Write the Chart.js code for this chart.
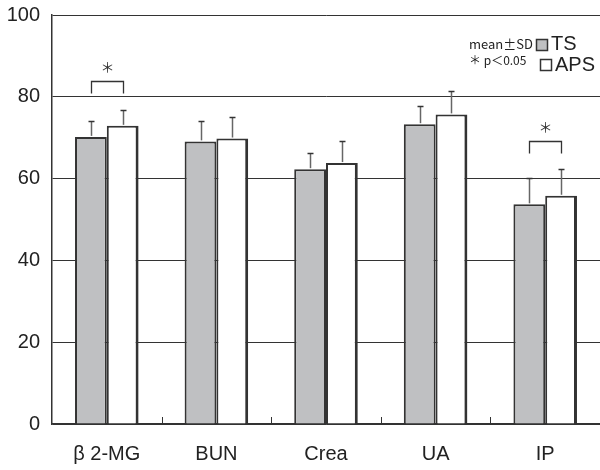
<!DOCTYPE html>
<html>
<head>
<meta charset="utf-8">
<script src="https://cdn.jsdelivr.net/npm/chart.js@4/dist/chart.umd.min.js"></script>
<style>
  html, body { margin: 0; padding: 0; background: #fff; }
  #wrap { width: 600px; height: 470px; }
</style>
</head>
<body>
<div id="wrap"><canvas id="c" width="600" height="470"></canvas></div>
<script>
// Measured items and the two groups compared
const categories = ['β 2-MG', 'BUN', 'Crea', 'UA', 'IP'];
const tsMean  = [70.2, 69.1, 62.3, 73.3, 53.7];
const tsSD    = [4.0, 5.1, 3.9, 4.5, 6.4];
const apsMean = [72.9, 69.8, 63.8, 75.7, 55.8];
const apsSD   = [3.9, 5.3, 5.5, 5.8, 6.5];
const yTicks  = [0, 20, 40, 60, 80, 100];
// Level of the significance bracket (null = not significant)
const sigBracket = [83.8, null, null, null, 69.3];

const SANS = '"Liberation Sans", Arial, sans-serif';
const JP = '"Noto Sans CJK JP", "Noto Sans", sans-serif';

const extras = {
  id: 'extras',
  afterDatasetsDraw(chart) {
    const ctx = chart.ctx;
    const x = chart.scales.x, y = chart.scales.y;
    const area = chart.chartArea;
    ctx.save();

    // small upward ticks between categories
    ctx.strokeStyle = '#333';
    ctx.lineWidth = 1;
    for (let i = 0; i < categories.length - 1; i++) {
      const px = Math.round((x.getPixelForValue(i) + x.getPixelForValue(i + 1)) / 2) + 0.5;
      ctx.beginPath();
      ctx.moveTo(px, area.bottom);
      ctx.lineTo(px, area.bottom - 7);
      ctx.stroke();
    }

    // SD error bars
    const sets = [[tsMean, tsSD], [apsMean, apsSD]];
    sets.forEach(([m, sd], di) => {
      const meta = chart.getDatasetMeta(di);
      meta.data.forEach((bar, i) => {
        const cx = Math.round(bar.x) + 0.5;
        const y0 = y.getPixelForValue(m[i]);
        const y1 = Math.round(y.getPixelForValue(m[i] + sd[i])) + 0.5;
        ctx.strokeStyle = '#666';
        ctx.lineWidth = 1.5;
        ctx.beginPath();
        ctx.moveTo(cx, y0 - 1);
        ctx.lineTo(cx, y1);
        ctx.stroke();
        ctx.strokeStyle = '#333';
        ctx.beginPath();
        ctx.moveTo(cx - 3, y1);
        ctx.lineTo(cx + 3, y1);
        ctx.stroke();
      });
    });

    // significance brackets and asterisks
    const m0 = chart.getDatasetMeta(0), m1 = chart.getDatasetMeta(1);
    sigBracket.forEach((lvl, i) => {
      if (lvl === null) return;
      const xa = Math.round(m0.data[i].x) + 0.5;
      const xb = Math.round(m1.data[i].x) + 0.5;
      const yt = Math.round(y.getPixelForValue(lvl)) + 0.5;
      ctx.strokeStyle = '#333';
      ctx.lineWidth = 1.3;
      ctx.beginPath();
      ctx.moveTo(xa, yt + 12);
      ctx.lineTo(xa, yt);
      ctx.lineTo(xb, yt);
      ctx.lineTo(xb, yt + 12);
      ctx.stroke();
      ctx.fillStyle = '#333';
      ctx.font = '14px ' + JP;
      ctx.textAlign = 'center';
      ctx.textBaseline = 'middle';
      ctx.fillText('＊', (xa + xb) / 2, yt - 15);
    });

    // legend
    ctx.textBaseline = 'middle';
    ctx.textAlign = 'left';
    ctx.fillStyle = '#222';
    ctx.font = '13px ' + JP;
    ctx.fillText('mean±SD', 469, 44);
    ctx.font = '12px ' + JP;
    ctx.fillText('＊ p＜0.05', 469, 60);
    ctx.lineWidth = 1.5;
    ctx.strokeStyle = '#333';
    ctx.fillStyle = '#bfc0c2';
    ctx.fillRect(536.5, 39.5, 11, 11);
    ctx.strokeRect(536.5, 39.5, 11, 11);
    ctx.fillStyle = '#fff';
    ctx.fillRect(540.5, 59.5, 11, 11);
    ctx.strokeRect(540.5, 59.5, 11, 11);
    ctx.fillStyle = '#222';
    ctx.font = '20px ' + SANS;
    ctx.fillText('TS', 551, 44);
    ctx.fillText('APS', 555, 65);

    ctx.restore();
  }
};

new Chart(document.getElementById('c'), {
  type: 'bar',
  data: {
    labels: categories,
    datasets: [
      {
        label: 'TS',
        data: tsMean,
        backgroundColor: '#bfc0c2',
        borderColor: '#333',
        borderWidth: { top: 2, left: 2, right: 2, bottom: 0 },
        borderSkipped: 'bottom',
        categoryPercentage: 0.58,
        barPercentage: 1.0
      },
      {
        label: 'APS',
        data: apsMean,
        backgroundColor: '#ffffff',
        borderColor: '#333',
        borderWidth: { top: 2, left: 2, right: 3, bottom: 0 },
        borderSkipped: 'bottom',
        categoryPercentage: 0.58,
        barPercentage: 1.0
      }
    ]
  },
  options: {
    responsive: false,
    animation: false,
    devicePixelRatio: 1,
    layout: { padding: { top: 15, right: -3, left: 0, bottom: 0 } },
    plugins: { legend: { display: false }, tooltip: { enabled: false } },
    scales: {
      x: {
        grid: { display: false, drawTicks: false },
        border: { display: true, color: '#333', width: 1.5 },
        ticks: { color: '#222', font: { family: SANS, size: 20 }, padding: 18 },
        afterFit(s) { s.height = 46; s.paddingLeft = 0; s.paddingRight = 0; }
      },
      y: {
        min: 0,
        max: 100,
        afterBuildTicks(s) { s.ticks = yTicks.map(v => ({ value: v })); },
        grid: { color: '#333', lineWidth: 1, drawTicks: false },
        border: { display: true, color: '#333', width: 1.5 },
        ticks: { color: '#222', font: { family: SANS, size: 20 }, padding: 12 },
        afterFit(s) { s.width = 52; s.paddingTop = 0; s.paddingBottom = 0; }
      }
    }
  },
  plugins: [extras]
});
</script>
</body>
</html>
